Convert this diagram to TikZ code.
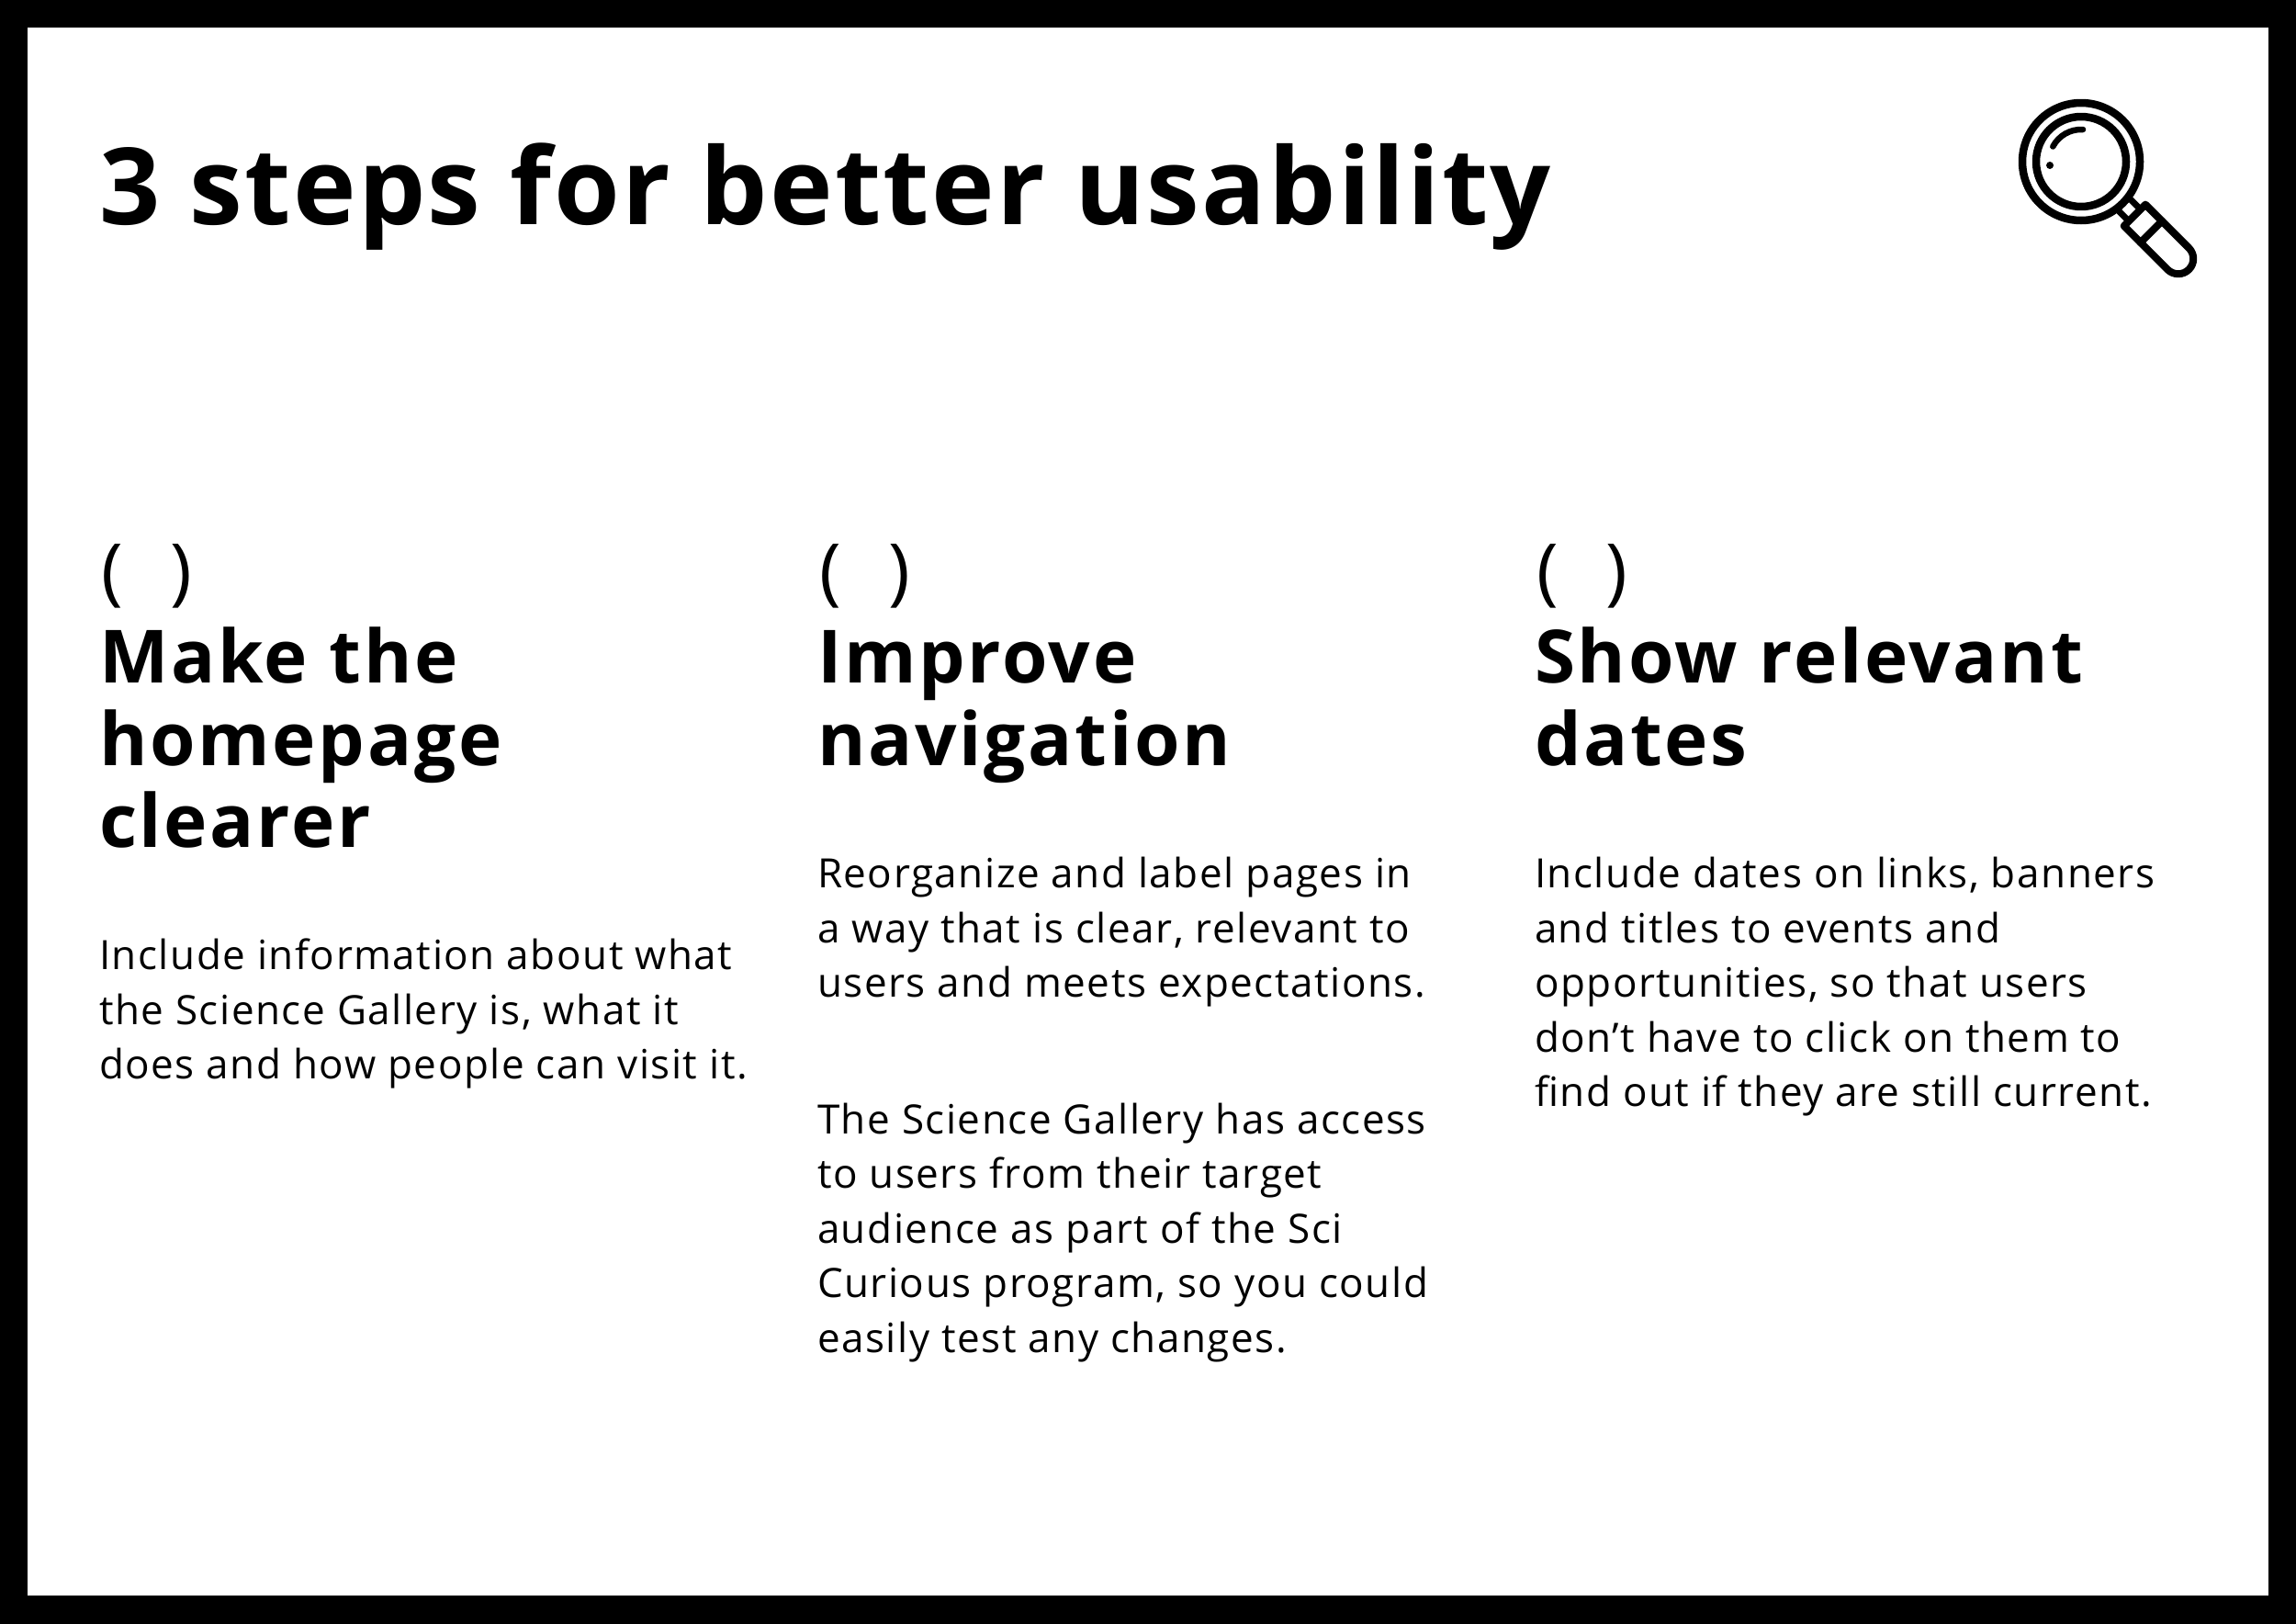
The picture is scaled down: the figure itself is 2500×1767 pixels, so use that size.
\documentclass[tikz,border=0pt]{standalone}
\usepackage{fontspec}
\setmainfont{Open Sans}
\newfontfamily\titlefont[LetterSpace=2.0]{Open Sans}
\newfontfamily\headfont[LetterSpace=3.4]{Open Sans}
\newfontfamily\bodyfont[LetterSpace=3.5]{Open Sans}
\newfontfamily\parenfont{Open Sans}
\begin{document}
\begin{tikzpicture}[x=1pt,y=1pt,
  txt/.style={anchor=base west,inner sep=0pt,outer sep=0pt,text=black},
  titletxt/.style={txt,font=\titlefont\bfseries\fontsize{116}{116}\selectfont},
  headtxt/.style={txt,font=\headfont\bfseries\fontsize{80}{80}\selectfont},
  bodytxt/.style={txt,font=\bodyfont\fontsize{44}{44}\selectfont},
  parentxt/.style={txt,font=\parenfont\fontsize{80}{80}\selectfont},
  iconline/.style={draw=black,line width=8.5pt,line cap=round,line join=round}]
\useasboundingbox (0,0) rectangle (2500,-1767);
\fill[black] (-5,5) rectangle (2505,-1775);
\fill[white] (30,-30) rectangle (2470,-1737);
\node[titletxt] (title) at (108,-244) {3 steps for better usability};
% column 1
\node[parentxt] (pa) at (110,-649) {(\hspace{52pt})};
\node[headtxt] (a1) at (108,-743) {Make the};
\node[headtxt] (a2) at (108,-833) {homepage};
\node[headtxt] (a3) at (108,-922) {clearer};
\node[bodytxt] (a4) at (108,-1055.5) {Include information about what};
\node[bodytxt] (a5) at (108,-1115.5) {the Science Gallery is, what it};
\node[bodytxt] (a6) at (108,-1174.5) {does and how people can visit it.};
% column 2
\node[parentxt] (pb) at (892,-649) {(\hspace{52pt})};
\node[headtxt] (b1) at (890,-743) {Improve};
\node[headtxt] (b2) at (890,-833) {navigation};
\node[bodytxt] (b3) at (890,-966.5) {Reorganize and label pages in};
\node[bodytxt] (b4) at (890,-1026.5) {a way that is clear, relevant to};
\node[bodytxt] (b5) at (890,-1085.5) {users and meets expectations.};
\node[bodytxt] (b6) at (890,-1234.5) {The Science Gallery has access};
\node[bodytxt] (b7) at (890,-1293.5) {to users from their target};
\node[bodytxt] (b8) at (890,-1353.5) {audience as part of the Sci};
\node[bodytxt] (b9) at (890,-1412.5) {Curious program, so you could};
\node[bodytxt] (b10) at (890,-1472.5) {easily test any changes.};
% column 3
\node[parentxt] (pc) at (1673,-649) {(\hspace{52pt})};
\node[headtxt] (c1) at (1671,-743) {Show relevant};
\node[headtxt] (c2) at (1671,-833) {dates};
\node[bodytxt] (c3) at (1671,-966.5) {Include dates on links, banners};
\node[bodytxt] (c4) at (1671,-1026.5) {and titles to events and};
\node[bodytxt] (c5) at (1671,-1085.5) {opportunities, so that users};
\node[bodytxt] (c6) at (1671,-1145.5) {don’t have to click on them to};
\node[bodytxt] (c7) at (1671,-1204.5) {find out if they are still current.};
% magnifier
\begin{scope}[shift={(2266,-176)}]
  \draw[iconline] (0,0) circle (64);
  \draw[iconline] (0,0) circle (49);
  \draw[iconline,line width=6.5pt] (2,35) arc (87:152:35);
  \fill[black] (-34,-4) circle (4);
  \begin{scope}[rotate=-45]
    \draw[iconline,line width=8pt] (82.5,16.5) -- (149.5,16.5) arc (90:-90:16.5) -- (82.5,-16.5) -- cycle;
    \draw[iconline,line width=8pt] (108,16.5) -- (108,-16.5);
    \draw[iconline,line width=7pt] (68,9) -- (82.5,9) (68,-9) -- (82.5,-9);
  \end{scope}
\end{scope}
\end{tikzpicture}
\end{document}
